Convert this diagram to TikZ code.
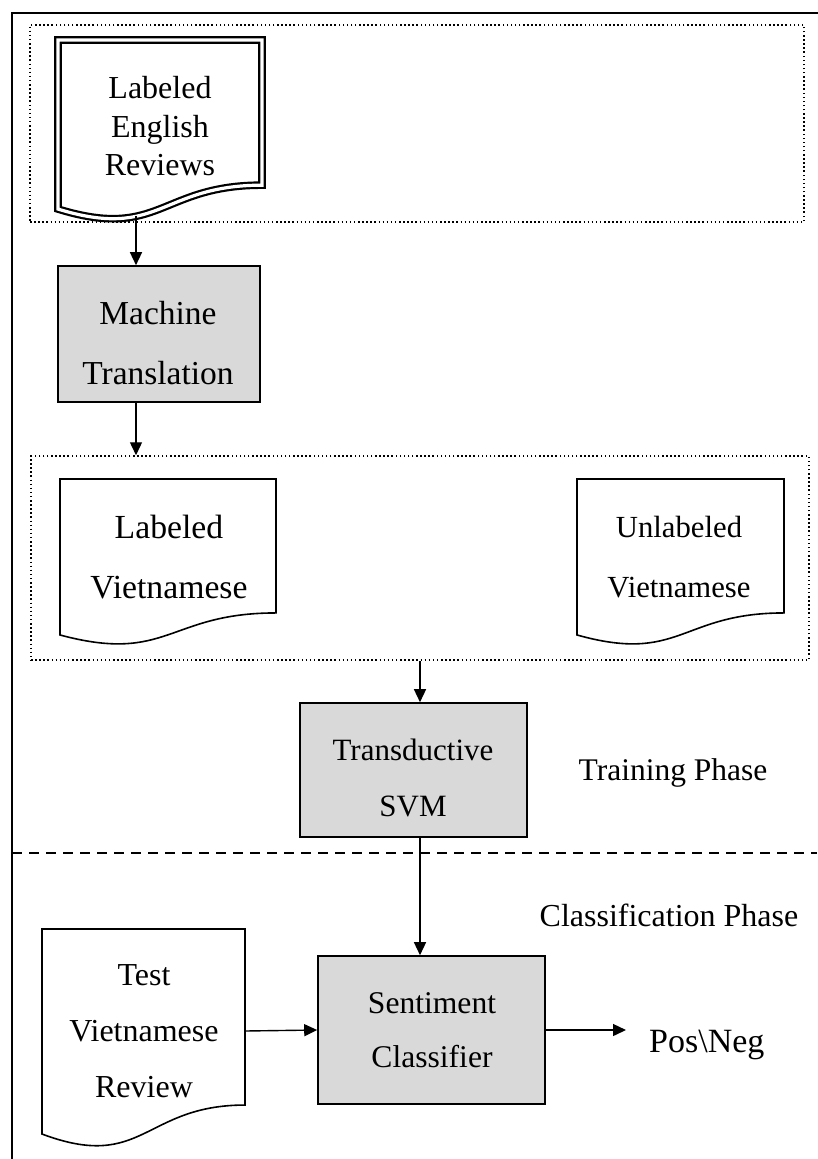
\documentclass[tikz,border=0pt]{standalone}
\usepackage{fontspec}
\setmainfont{Liberation Serif}
\usetikzlibrary{arrows.meta}
\definecolor{boxgray}{HTML}{D9D9D9}
\newcommand\mydoc[5][]{%
  \draw[docline,#1] (#2,#3) -- (#4,#3) -- (#4,{#3+0.802*#5})
    .. controls ({(#2+#4)/2},{#3+0.802*#5}) and ({(#2+#4)/2},{#3+1.1075*#5})
    .. (#2,{#3+0.934*#5}) -- cycle;}
\tikzset{
  docline/.style={line width=1.6pt, line join=miter},
  gbox/.style={draw, line width=1.6pt, fill=boxgray, inner sep=0pt},
  dotbox/.style={draw, line width=1.5pt, dash pattern=on 1.5pt off 2.6pt, inner sep=0pt},
  txt/.style={inner sep=0pt, align=center},
  arr/.style={line width=1.4pt, -{Triangle[length=13pt,width=12pt]}},
  frame/.style={line width=2pt},
  dashline/.style={line width=2.4pt, dash pattern=on 10pt off 7pt},
}
\begin{document}
\begin{tikzpicture}[x=1pt,y=-1pt]
\useasboundingbox (0,0) rectangle (817,1159);
% outer frame
\draw[frame] (12,1165) -- (12,13) -- (822,13);
% group boxes
\node[dotbox, minimum width=774pt, minimum height=197pt] (topgrp) at (417,123.5) {};
\node[dotbox, minimum width=778pt, minimum height=204pt] (midgrp) at (420,558) {};
% labeled english reviews (double border document)
\coordinate (engtip) at (136,216);
\mydoc[line width=2.2pt, double, double distance=3.2pt]{58}{40}{262}{181}
\node[txt, font=\fontsize{32}{38.5}\selectfont] (eng) at (160,126.5) {Labeled\\English\\Reviews};
% machine translation
\node[gbox, minimum width=202pt, minimum height=136pt] (mt) at (159,334) {};
\node[txt, font=\fontsize{33.5}{60}\selectfont] (mttext) at (158,343) {Machine\\Translation};
% labeled / unlabeled vietnamese
\mydoc{60}{479}{276}{167}
\node[txt, font=\fontsize{33.7}{60}\selectfont] (labviet) at (169,557) {Labeled\\Vietnamese};
\mydoc{577}{479}{784}{167}
\node[txt, font=\fontsize{30.7}{60}\selectfont] (unlabviet) at (679,557) {Unlabeled\\Vietnamese};
% transductive svm
\node[gbox, minimum width=227pt, minimum height=134pt] (tsvm) at (413.5,770) {};
\node[txt, font=\fontsize{31}{56}\selectfont] (tsvmtext) at (413,778) {Transductive\\SVM};
\node[txt, font=\fontsize{31.5}{36}\selectfont] (train) at (673,773) {Training Phase};
% phase separator
\draw[dashline] (12,853) -- (817,853);
\node[txt, font=\fontsize{32}{36}\selectfont] (classph) at (669,915) {Classification Phase};
% sentiment classifier
\node[gbox, minimum width=227pt, minimum height=148pt] (sent) at (431.5,1030) {};
\node[txt, font=\fontsize{31.6}{54}\selectfont] (senttext) at (432,1030) {Sentiment\\Classifier};
% test vietnamese review
\mydoc{42}{929}{245}{219.5}
\node[txt, font=\fontsize{32}{56}\selectfont] (test) at (144,1031) {Test\\Vietnamese\\Review};
\coordinate (testR) at (245,1031);
% output
\node[txt, font=\fontsize{34}{40}\selectfont, anchor=base west] (posneg) at (649,1052) {Pos\textbackslash Neg};
% connectors
\draw[arr] (engtip) -- (engtip |- mt.north);
\draw[arr] (mt.south -| engtip) -- (midgrp.north -| engtip);
\draw[arr] (midgrp.south) -- (midgrp.south |- tsvm.north);
\draw[arr] (tsvm.south -| midgrp.south) -- (sent.north -| midgrp.south);
\draw[arr] (testR) -- (sent.west);
\draw[arr] (sent.east) -- ([xshift=-23pt]sent.east -| posneg.west);
\end{tikzpicture}
\end{document}
